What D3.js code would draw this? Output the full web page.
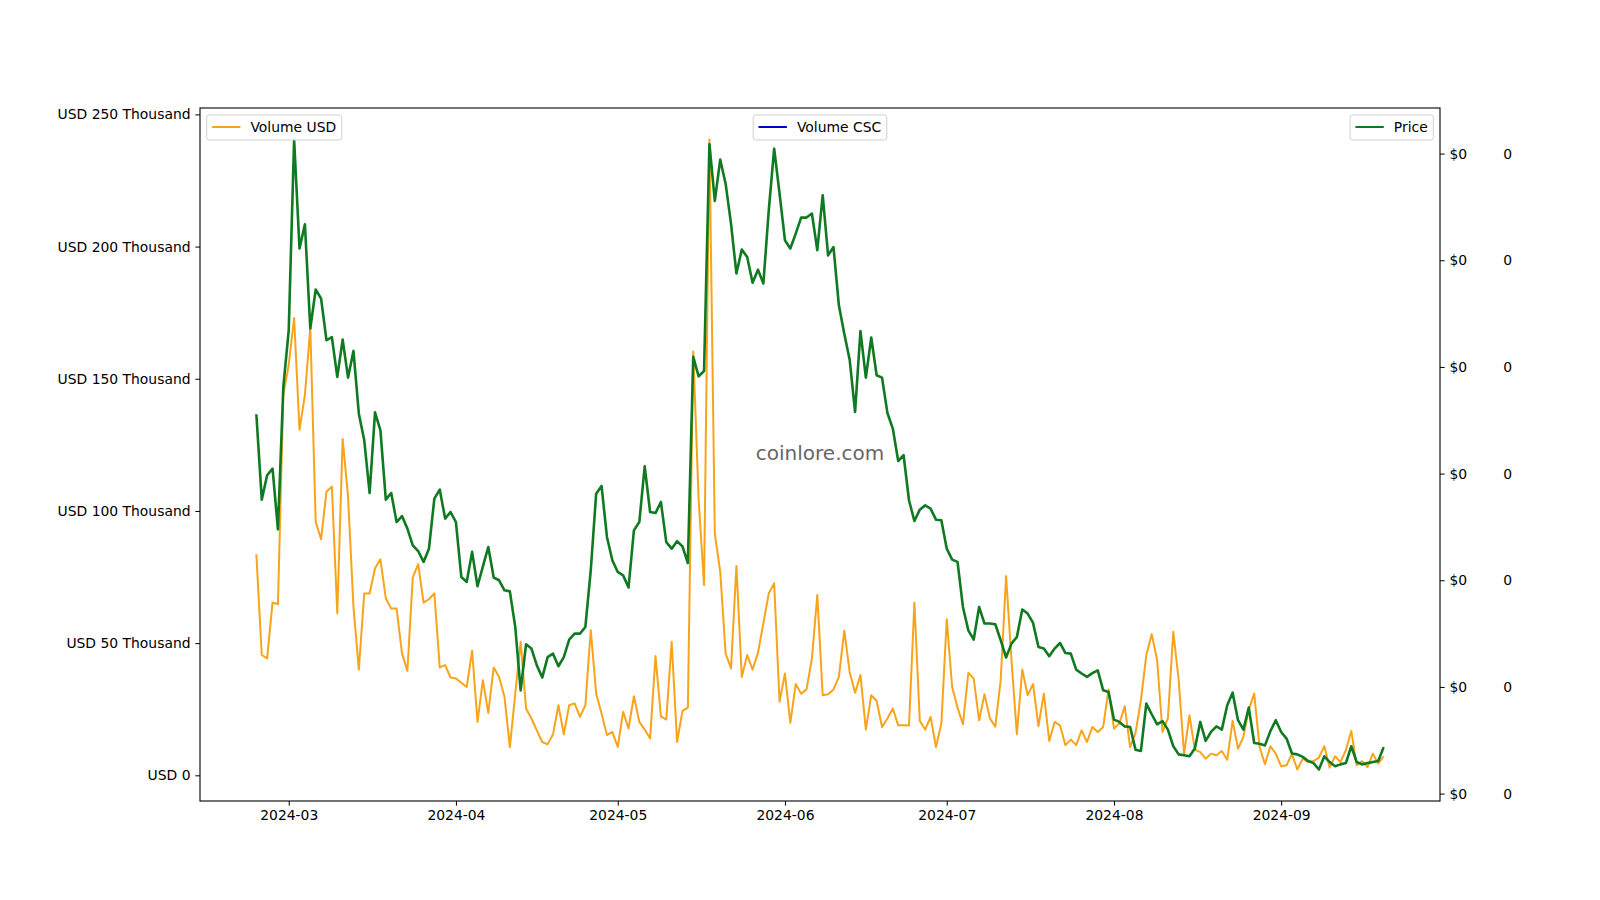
<!DOCTYPE html>
<html>
<head>
<meta charset="utf-8">
<script src="https://cdn.jsdelivr.net/npm/d3@7"></script>
<style>
  body { margin: 0; background: #fff; }
  svg { display: block; font-family: "DejaVu Sans", sans-serif; }
</style>
</head>
<body>
<div id="chart"></div>
<script>
// daily series, first day below, one value per day
var startDate = "2024-02-24";

// volume in thousands of USD
var volumeUsd = [
  83.6, 45.5, 44.2, 65.4, 64.7, 143.9, 155.3, 173.0, 130.7, 143.9,
  169.2, 95.9, 89.3, 107.3, 109.2, 61.3, 127.2, 105.4, 63.8, 40.0,
  68.8, 68.8, 78.3, 81.7, 66.9, 63.1, 63.1, 46.1, 39.5, 74.9,
  79.9, 65.3, 66.6, 68.8, 40.8, 41.7, 37.0, 36.6, 35.0, 33.4,
  47.1, 20.2, 36.0, 23.6, 40.8, 37.2, 29.7, 10.7, 30.9, 50.5,
  25.3, 21.5, 17.0, 12.6, 11.7, 15.5, 26.5, 15.5, 26.5, 27.2,
  22.1, 26.5, 54.9, 30.9, 23.4, 15.2, 16.4, 10.7, 24.0, 17.7,
  29.9, 20.2, 17.3, 13.9, 45.1, 22.3, 21.1, 50.5, 12.6, 24.4,
  25.6, 160.3, 104.2, 72.0, 240.5, 91.3, 77.0, 46.1, 40.4, 79.2,
  37.2, 45.5, 40.0, 46.3, 57.5, 68.8, 72.6, 27.8, 38.5, 19.8,
  34.5, 30.9, 32.5, 44.2, 68.2, 30.3, 30.7, 32.5, 37.2, 54.7,
  39.1, 31.2, 37.9, 17.3, 30.3, 28.1, 18.3, 21.5, 25.3, 18.9,
  18.9, 18.8, 65.3, 20.6, 17.3, 22.1, 10.7, 19.6, 59.0, 33.4,
  25.6, 19.3, 38.8, 36.6, 20.8, 30.7, 21.5, 18.4, 36.0, 75.4,
  43.6, 15.5, 40.0, 30.3, 34.5, 18.6, 30.9, 13.0, 20.2, 18.9,
  11.4, 13.5, 11.4, 17.0, 12.6, 18.3, 16.4, 18.3, 32.5, 17.7,
  19.6, 26.1, 10.7, 16.0, 28.4, 45.5, 53.4, 43.6, 16.4, 21.5,
  54.3, 36.0, 8.0, 22.7, 9.7, 8.8, 6.3, 8.2, 7.6, 9.2,
  5.9, 20.6, 10.1, 14.5, 24.9, 30.9, 10.7, 4.2, 11.0, 8.2,
  3.4, 3.8, 8.0, 2.2, 6.3, 5.0, 5.4, 6.7, 11.0, 2.9,
  7.2, 5.0, 9.5, 16.8, 3.8, 5.4, 3.1, 8.2, 4.4, 7.2
];

// price in USD
var price = [
  0.002778, 0.002378, 0.002492, 0.002523, 0.002239, 0.002906, 0.003172, 0.004066, 0.003555, 0.003669,
  0.003180, 0.003363, 0.003320, 0.003125, 0.003140, 0.002953, 0.003128, 0.002950, 0.003075, 0.002781,
  0.002656, 0.002409, 0.002787, 0.002703, 0.002378, 0.002409, 0.002273, 0.002301, 0.002242, 0.002164,
  0.002137, 0.002086, 0.002148, 0.002383, 0.002425, 0.002289, 0.002320, 0.002273, 0.002015, 0.001992,
  0.002133, 0.001972, 0.002065, 0.002156, 0.002013, 0.002000, 0.001953, 0.001948, 0.001781, 0.001484,
  0.001700, 0.001680, 0.001601, 0.001544, 0.001640, 0.001656, 0.001597, 0.001640, 0.001722, 0.001750,
  0.001750, 0.001781, 0.002047, 0.002406, 0.002442, 0.002203, 0.002094, 0.002039, 0.002023, 0.001966,
  0.002234, 0.002273, 0.002534, 0.002320, 0.002315, 0.002367, 0.002179, 0.002148, 0.002183, 0.002159,
  0.002081, 0.003047, 0.002956, 0.002981, 0.004044, 0.003778, 0.003972, 0.003859, 0.003672, 0.003438,
  0.003550, 0.003515, 0.003395, 0.003456, 0.003391, 0.003734, 0.004023, 0.003813, 0.003594, 0.003555,
  0.003625, 0.003700, 0.003700, 0.003719, 0.003547, 0.003805, 0.003523, 0.003562, 0.003289, 0.003156,
  0.003034, 0.002789, 0.003168, 0.002950, 0.003138, 0.002961, 0.002950, 0.002784, 0.002711, 0.002559,
  0.002586, 0.002375, 0.002278, 0.002331, 0.002351, 0.002336, 0.002284, 0.002281, 0.002148, 0.002097,
  0.002086, 0.001875, 0.001765, 0.001722, 0.001875, 0.001797, 0.001797, 0.001794, 0.001719, 0.001638,
  0.001703, 0.001734, 0.001863, 0.001844, 0.001800, 0.001687, 0.001680, 0.001644, 0.001680, 0.001706,
  0.001659, 0.001656, 0.001581, 0.001563, 0.001547, 0.001565, 0.001578, 0.001484, 0.001476, 0.001347,
  0.001336, 0.001315, 0.001312, 0.001206, 0.001200, 0.001422, 0.001372, 0.001325, 0.001340, 0.001300,
  0.001222, 0.001184, 0.001180, 0.001175, 0.001211, 0.001336, 0.001247, 0.001289, 0.001315, 0.001300,
  0.001414, 0.001473, 0.001344, 0.001300, 0.001403, 0.001237, 0.001234, 0.001226, 0.001293, 0.001344,
  0.001289, 0.001258, 0.001188, 0.001184, 0.001172, 0.001153, 0.001143, 0.001113, 0.001175, 0.001148,
  0.001128, 0.001137, 0.001143, 0.001222, 0.001148, 0.001137, 0.001143, 0.001148, 0.001153, 0.001218
];

var monthTicks = ["2024-03-01", "2024-04-01", "2024-05-01", "2024-06-01", "2024-07-01", "2024-08-01", "2024-09-01"];
var volumeTicks = [0, 50, 100, 150, 200, 250];
var volumeTickLabels = ["USD 0", "USD 50 Thousand", "USD 100 Thousand", "USD 150 Thousand", "USD 200 Thousand", "USD 250 Thousand"];
var priceTicks = [0.001, 0.0015, 0.002, 0.0025, 0.003, 0.0035, 0.004];
var legendItems = [
  { label: "Volume USD", color: "#f8a41a", pos: "left" },
  { label: "Volume CSC", color: "#0000cd", pos: "center" },
  { label: "Price", color: "#107a22", pos: "right" }
];

var width = 1600, height = 900;
var plotLeft = 200, plotRight = 1440, plotTop = 108, plotBottom = 801;
var fontSize = 13.9;
var tickLen = 4.67;

var t0 = d3.isoParse(startDate);
var data = volumeUsd.map(function (v, i) {
  return { date: d3.utcDay.offset(t0, i), vol: v, price: price[i] };
});

// matplotlib style 5% margins
function padded(ext) {
  var lo = +ext[0], hi = +ext[1];
  var pad = (hi - lo) * 0.05;
  return [lo - pad, hi + pad];
}

var x = d3.scaleUtc()
    .domain(padded(d3.extent(data, function (d) { return d.date; })))
    .range([plotLeft, plotRight]);
var yVol = d3.scaleLinear()
    .domain(padded(d3.extent(volumeUsd)))
    .range([plotBottom, plotTop]);
var yPrice = d3.scaleLinear()
    .domain(padded(d3.extent(price)))
    .range([plotBottom, plotTop]);

var svg = d3.select('#chart')
    .append('svg')
    .attr('width', width)
    .attr('height', height);

svg.append('rect')
    .attr('width', width)
    .attr('height', height)
    .attr('fill', '#fff');

// watermark
svg.append('text')
    .attr('x', (plotLeft + plotRight) / 2)
    .attr('y', (plotTop + plotBottom) / 2)
    .attr('text-anchor', 'middle')
    .attr('dominant-baseline', 'middle')
    .attr('font-size', 20)
    .attr('fill', '#666')
    .text('coinlore.com');

var volLine = d3.line()
    .x(function (d) { return x(d.date); })
    .y(function (d) { return yVol(d.vol); });
var priceLine = d3.line()
    .x(function (d) { return x(d.date); })
    .y(function (d) { return yPrice(d.price); });

svg.append('path')
    .datum(data)
    .attr('d', volLine)
    .attr('fill', 'none')
    .attr('stroke', legendItems[0].color)
    .attr('stroke-width', 2)
    .attr('stroke-linejoin', 'round');

svg.append('path')
    .datum(data)
    .attr('d', priceLine)
    .attr('fill', 'none')
    .attr('stroke', legendItems[2].color)
    .attr('stroke-width', 2.6)
    .attr('stroke-linejoin', 'round');

// axes
function styleAxis(g) {
  g.select('.domain').remove();
  g.selectAll('.tick line').attr('stroke', '#000').attr('stroke-width', 1);
  g.selectAll('.tick text')
      .attr('fill', '#000')
      .attr('font-size', fontSize)
      .attr('font-family', '"DejaVu Sans", sans-serif');
}

svg.append('g')
    .attr('transform', 'translate(0,' + plotBottom + ')')
    .call(d3.axisBottom(x)
      .tickValues(monthTicks.map(function (s) { return d3.isoParse(s); }))
      .tickFormat(d3.utcFormat('%Y-%m'))
      .tickSize(tickLen)
      .tickPadding(4.5))
    .call(styleAxis);

svg.append('g')
    .attr('transform', 'translate(' + plotLeft + ',0)')
    .call(d3.axisLeft(yVol)
      .tickValues(volumeTicks)
      .tickFormat(function (d, i) { return volumeTickLabels[i]; })
      .tickSize(tickLen)
      .tickPadding(4.8))
    .call(styleAxis);

svg.append('g')
    .attr('transform', 'translate(' + plotRight + ',0)')
    .call(d3.axisRight(yPrice)
      .tickValues(priceTicks)
      .tickFormat(d3.format('$.0f'))
      .tickSize(tickLen)
      .tickPadding(4.8))
    .call(styleAxis);

// third axis for CSC volume, spine hidden
svg.append('g')
    .attr('transform', 'translate(1494,0)')
    .call(d3.axisRight(yPrice)
      .tickValues(priceTicks)
      .tickFormat(function () { return '0'; })
      .tickSize(0)
      .tickPadding(9.3))
    .call(styleAxis);

// frame
svg.append('rect')
    .attr('x', plotLeft)
    .attr('y', plotTop)
    .attr('width', plotRight - plotLeft)
    .attr('height', plotBottom - plotTop)
    .attr('fill', 'none')
    .attr('stroke', '#000')
    .attr('stroke-width', 1.1);

// legends
var legend = svg.selectAll('.legend')
    .data(legendItems)
    .enter()
    .append('g')
    .attr('class', 'legend');

legend.each(function (d) {
  var g = d3.select(this);
  var box = g.append('rect')
      .attr('fill', '#fff')
      .attr('fill-opacity', 0.8)
      .attr('stroke', '#d0d0d0')
      .attr('stroke-width', 1)
      .attr('rx', 2.5);
  var txt = g.append('text')
      .attr('font-size', fontSize)
      .attr('dominant-baseline', 'central')
      .attr('fill', '#000')
      .text(d.label);
  var tw = txt.node().getComputedTextLength();
  var w = 5.3 + 28.4 + 10 + tw + 5.6;
  var h = 25;
  var bx;
  if (d.pos === 'left') bx = plotLeft + 6.7;
  else if (d.pos === 'center') bx = (plotLeft + plotRight) / 2 - w / 2;
  else bx = plotRight - 6.7 - w;
  var by = plotTop + 7;
  box.attr('x', bx).attr('y', by).attr('width', w).attr('height', h);
  g.append('line')
      .attr('x1', bx + 5.3)
      .attr('x2', bx + 5.3 + 28.4)
      .attr('y1', by + h / 2 - 0.5)
      .attr('y2', by + h / 2 - 0.5)
      .attr('stroke', d.color)
      .attr('stroke-width', 2);
  txt.attr('x', bx + 5.3 + 28.4 + 10).attr('y', by + h / 2 - 0.5);
});
</script>
</body>
</html>
